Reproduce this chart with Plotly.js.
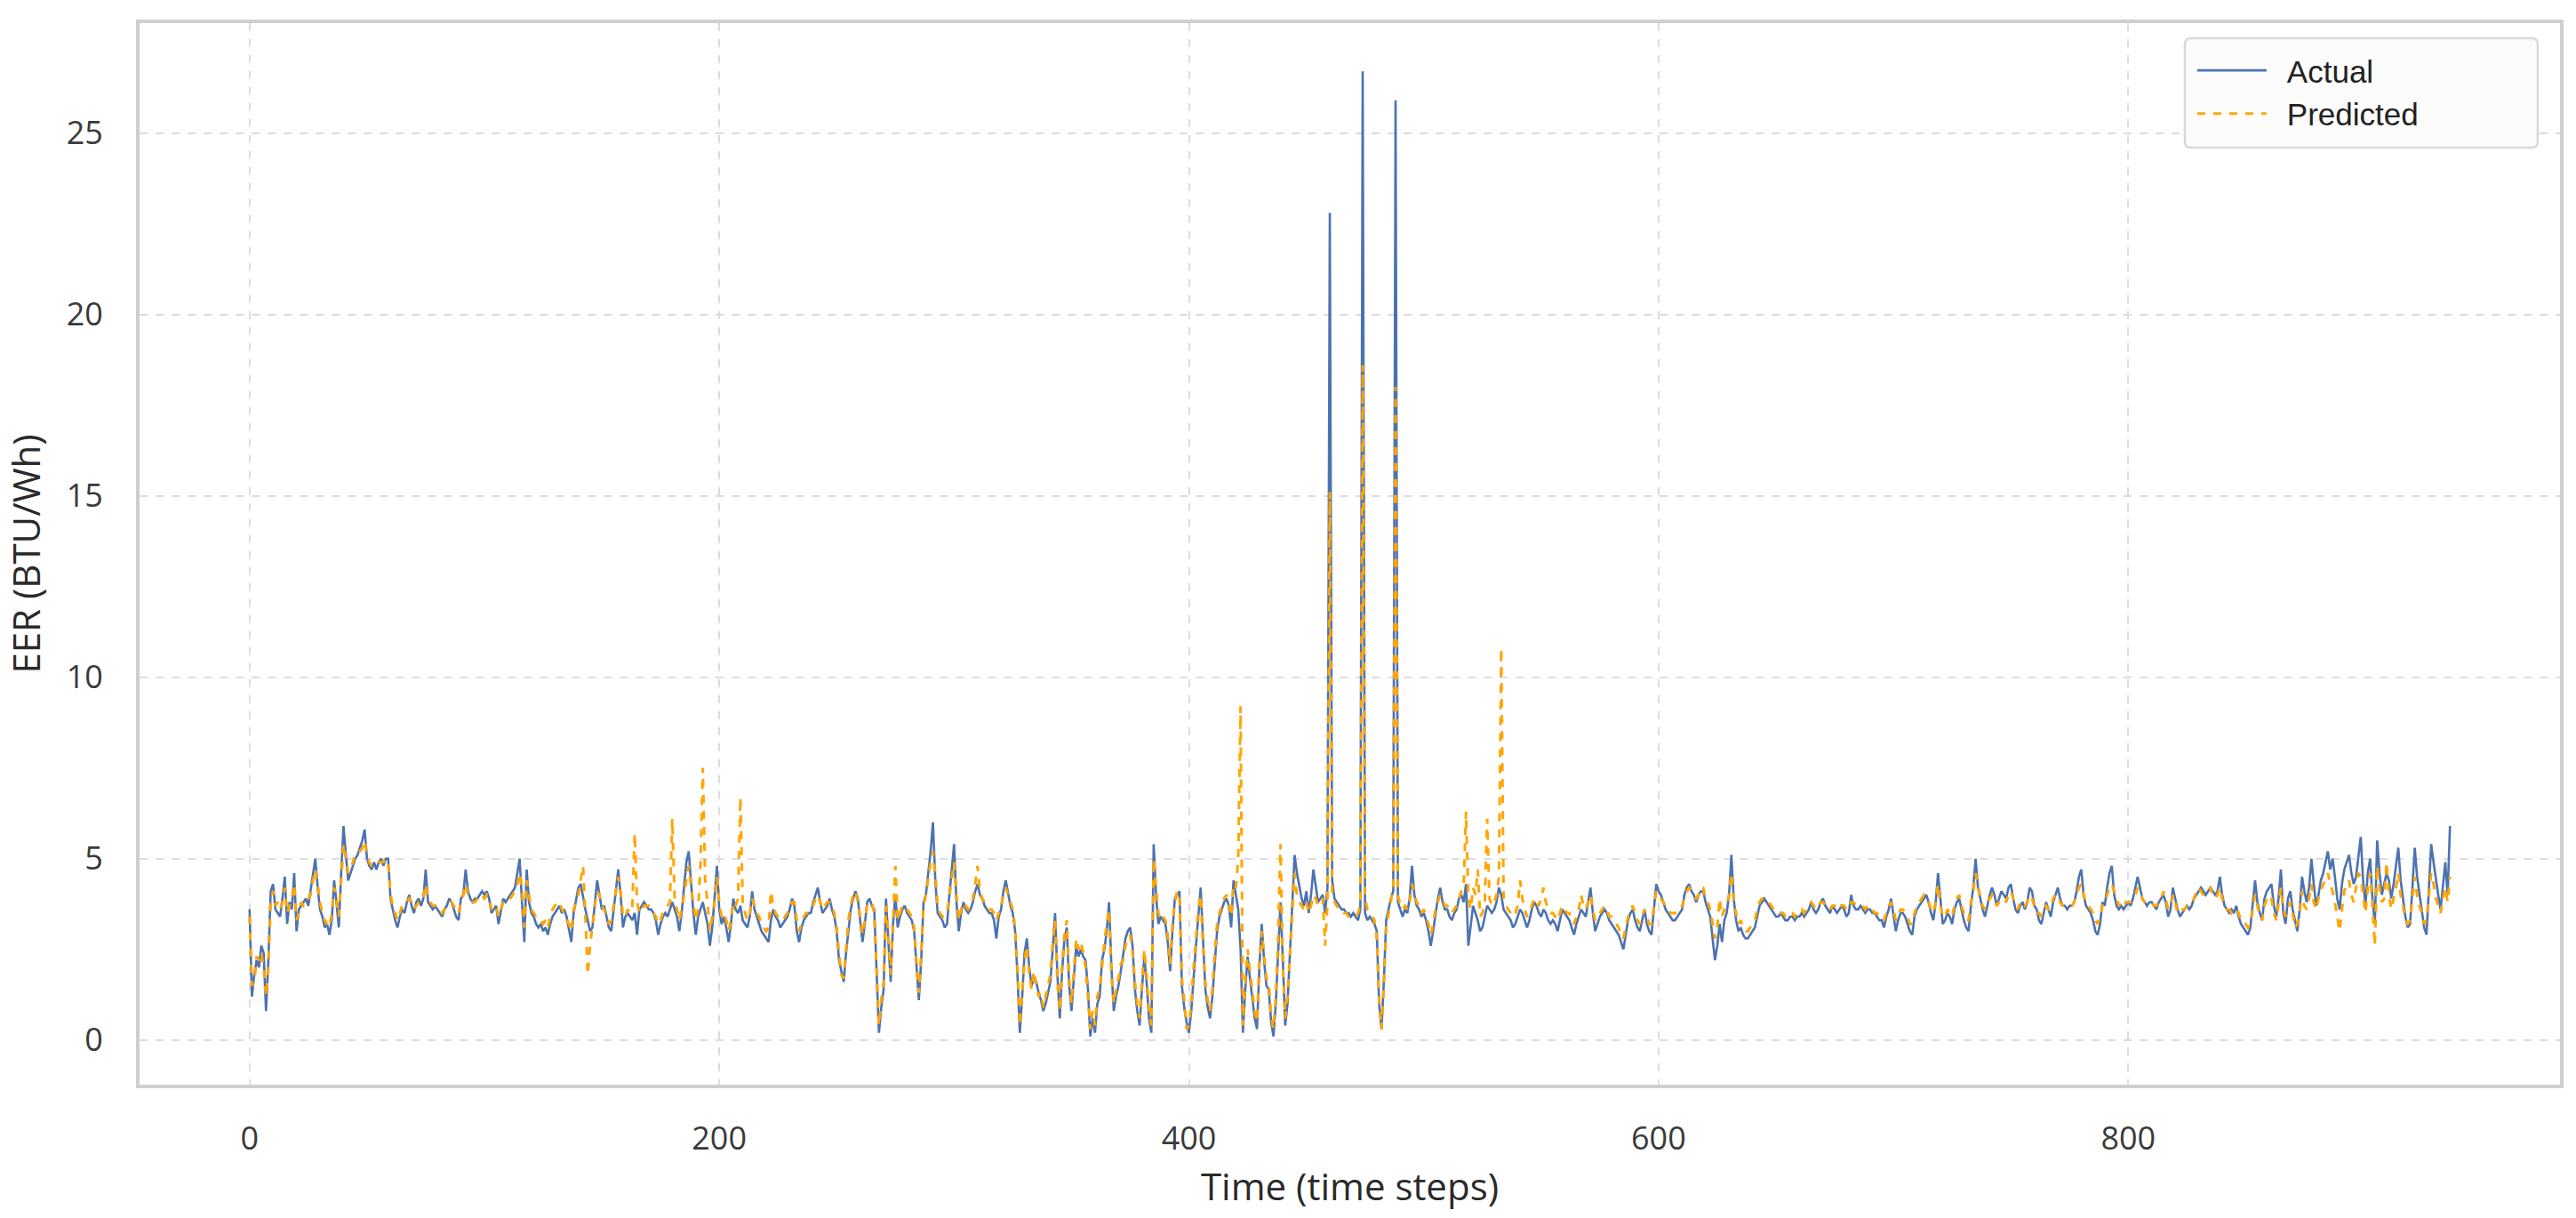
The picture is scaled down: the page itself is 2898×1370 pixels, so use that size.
<!DOCTYPE html>
<html>
<head>
<meta charset="utf-8">
<script src="https://cdn.plot.ly/plotly-3.0.1.min.js"></script>
<style>
html,body{margin:0;padding:0;background:#ffffff;}
#chart{width:2898px;height:1370px;}
</style>
</head>
<body>
<div id="chart"></div>
<script>
// Actual EER values, one per time step (t = 0 .. 937)
const actual = [
3.6,1.2,1.8,2.2,2.0,2.6,2.4,0.8,2.2,4.1,4.3,3.6,3.5,3.4,3.9,4.5,3.2,3.8,3.6,4.6,
3.0,3.6,3.7,3.8,3.9,3.7,4.1,4.5,5.0,4.2,3.6,3.4,3.1,3.2,2.9,3.3,4.4,3.8,3.1,4.6,
5.9,5.1,4.4,4.6,4.8,5.0,5.1,5.3,5.5,5.8,5.0,4.8,4.7,4.9,4.7,4.9,5.0,4.8,5.0,5.0,
3.9,3.6,3.3,3.1,3.4,3.6,3.5,3.8,4.0,3.7,3.5,3.8,3.9,3.7,3.9,4.7,3.8,3.7,3.6,3.7,
3.6,3.5,3.4,3.6,3.7,3.9,3.8,3.6,3.4,3.3,3.9,4.0,4.7,4.1,3.9,3.8,3.9,3.9,4.0,4.1,
4.0,4.1,3.9,3.5,3.6,3.7,3.2,3.6,3.9,3.8,3.9,4.0,4.1,4.2,4.6,5.0,3.8,2.7,4.7,3.8,
3.5,3.4,3.2,3.1,3.2,3.0,3.1,2.9,3.2,3.4,3.5,3.6,3.7,3.5,3.6,3.4,3.0,2.7,3.5,3.9,
4.2,4.3,3.9,3.6,3.3,3.0,3.1,3.8,4.4,4.0,3.6,3.7,3.4,3.1,3.0,3.6,4.2,4.7,4.0,3.1,
3.4,3.5,3.4,3.3,3.5,2.9,3.6,3.7,3.8,3.7,3.6,3.6,3.5,3.3,2.9,3.2,3.4,3.5,3.4,3.6,
3.8,3.6,3.4,3.0,3.5,4.2,4.9,5.2,4.3,3.5,2.9,3.4,3.6,3.8,3.5,3.2,2.6,3.1,3.9,4.8,
3.6,3.2,3.4,3.1,2.7,3.2,3.9,3.6,3.5,3.7,3.3,3.2,3.1,3.4,4.1,3.6,3.4,3.2,3.0,2.9,
2.8,2.7,3.3,3.6,3.4,3.3,3.1,3.2,3.3,3.4,3.6,3.9,3.7,3.0,2.7,3.1,3.3,3.4,3.5,3.5,
3.8,4.0,4.2,3.8,3.5,3.6,3.7,3.9,3.6,3.4,3.0,2.2,1.9,1.6,2.4,3.1,3.6,3.9,4.1,3.9,
3.2,2.7,3.2,3.8,3.9,3.7,3.6,1.8,0.2,0.9,1.4,3.9,2.8,1.6,3.2,4.0,3.1,3.4,3.6,3.7,
3.5,3.4,3.3,3.0,2.0,1.1,2.2,3.8,4.0,4.6,5.2,6.0,4.4,3.5,3.4,3.3,3.1,3.2,4.0,4.7,
5.4,3.8,3.0,3.5,3.8,3.6,3.5,3.6,3.8,4.1,4.3,4.0,3.9,3.7,3.6,3.5,3.5,3.3,2.8,3.4,
3.6,4.1,4.4,4.0,3.7,3.5,3.0,1.8,0.2,1.2,2.4,2.8,2.0,1.5,1.7,1.6,1.3,1.1,0.8,1.0,
1.3,1.6,2.5,3.5,1.8,0.6,1.9,2.8,3.1,1.5,0.8,1.6,2.6,2.3,2.5,2.3,2.2,1.4,0.1,0.6,
0.2,1.0,1.2,2.2,2.5,3.0,3.8,2.0,0.8,1.2,1.5,1.9,2.4,2.8,3.0,3.1,2.6,1.4,0.8,0.4,
1.4,2.3,1.6,0.6,0.2,5.4,4.0,3.2,3.4,3.3,3.2,2.7,1.9,3.0,3.9,4.0,4.1,1.5,0.9,0.5,
0.2,0.8,1.8,2.6,3.4,4.2,2.8,1.4,0.9,0.6,1.2,2.2,3.0,3.4,3.6,3.8,3.9,3.7,3.1,4.4,
4.0,3.6,2.5,0.2,1.4,2.3,1.7,1.2,0.6,0.3,2.0,3.2,2.2,1.5,1.4,0.5,0.1,1.0,2.6,3.8,
2.2,0.4,1.0,2.5,3.6,5.1,4.6,4.2,3.9,3.7,4.1,3.5,4.0,4.7,4.2,3.8,3.9,4.0,3.5,4.2,
22.8,4.4,3.9,3.8,3.7,3.6,3.6,3.5,3.5,3.4,3.5,3.4,3.3,3.6,26.7,3.5,3.3,3.4,3.3,3.2,
3.0,1.0,0.3,1.6,3.3,3.6,3.9,4.1,25.9,3.8,3.6,3.4,3.6,3.5,3.9,4.8,4.0,3.7,3.6,3.4,
3.5,3.3,3.0,2.6,3.0,3.5,3.9,4.2,3.8,3.6,3.6,3.4,3.3,3.5,3.6,3.9,4.0,3.8,4.3,2.6,
3.2,3.7,3.5,3.3,3.0,3.1,3.4,3.7,3.6,3.5,3.6,3.8,4.2,4.0,3.6,3.5,3.4,3.3,3.1,3.2,
3.4,3.6,3.5,3.3,3.1,3.3,3.6,3.8,3.7,3.5,3.4,3.6,3.5,3.3,3.2,3.3,3.2,3.0,3.3,3.6,
3.5,3.4,3.3,3.1,2.9,3.2,3.4,3.6,3.5,3.4,3.8,4.2,3.5,3.0,3.2,3.4,3.5,3.6,3.5,3.3,
3.2,3.1,3.0,2.9,2.7,2.5,2.9,3.3,3.5,3.6,3.3,3.1,3.0,3.3,3.6,3.2,3.0,2.9,3.6,4.3,
4.1,4.0,3.8,3.6,3.5,3.4,3.3,3.3,3.4,3.5,3.6,4.0,4.2,4.3,4.1,4.0,3.8,4.0,4.1,4.1,
3.8,3.6,3.4,2.8,2.2,2.6,3.2,2.7,3.3,3.5,4.0,5.1,3.9,3.3,3.0,3.1,2.9,2.8,2.8,2.9,
3.0,3.1,3.4,3.7,3.8,3.9,3.8,3.7,3.6,3.5,3.4,3.4,3.5,3.4,3.3,3.3,3.4,3.4,3.3,3.4,
3.4,3.5,3.4,3.5,3.6,3.8,3.6,3.5,3.6,3.8,3.9,3.7,3.6,3.5,3.7,3.6,3.5,3.6,3.7,3.6,
3.4,3.5,4.0,3.7,3.6,3.6,3.7,3.6,3.5,3.6,3.6,3.5,3.5,3.4,3.3,3.3,3.1,3.4,3.6,3.9,
3.5,3.0,3.3,3.5,3.5,3.4,3.2,3.0,2.9,3.4,3.6,3.7,3.8,3.9,4.0,3.8,3.5,3.3,3.8,4.6,
3.8,3.2,3.3,3.5,3.4,3.2,3.6,3.8,3.9,3.6,3.3,3.1,3.0,3.7,4.2,5.0,4.2,3.9,3.6,3.4,
3.7,4.0,4.2,4.0,3.7,3.9,4.1,4.0,3.9,4.2,4.3,3.9,3.6,3.5,3.7,3.8,3.6,3.8,4.2,4.1,
3.7,3.6,3.3,3.2,3.5,3.8,3.6,3.4,3.8,4.0,4.2,3.9,3.7,3.7,3.6,3.7,3.7,3.8,4.1,4.5,
4.7,4.0,3.7,3.6,3.5,3.3,3.0,2.9,3.2,3.8,3.7,4.2,4.6,4.8,4.0,3.7,3.6,3.7,3.6,3.7,
3.8,3.7,3.9,4.2,4.5,4.2,3.9,3.8,3.7,3.8,3.8,3.7,3.6,3.8,3.9,4.0,3.8,3.4,3.6,4.2,
3.9,3.6,3.4,3.5,3.6,3.7,3.6,3.7,3.9,4.0,4.1,4.2,4.1,4.0,4.1,4.2,4.1,4.0,4.1,4.5,
4.0,3.7,3.6,3.5,3.6,3.5,3.7,3.4,3.2,3.1,3.0,2.9,3.1,3.8,4.4,3.8,3.5,3.3,3.9,4.1,
4.2,4.3,3.7,3.4,3.9,4.7,3.5,3.2,3.9,4.1,3.6,3.3,3.0,3.6,4.5,4.1,3.8,4.2,5.0,4.3,
3.7,4.0,4.4,4.6,4.9,5.2,4.7,5.0,4.5,3.9,3.6,4.3,4.7,4.9,5.1,4.6,4.3,4.5,5.0,5.6,
4.4,3.7,4.6,5.0,3.9,3.2,5.5,4.6,4.0,4.3,4.6,4.4,3.9,4.3,4.8,5.3,4.4,3.9,3.4,3.1,
3.2,4.2,5.3,4.5,4.0,3.6,3.1,2.9,4.2,5.4,4.9,4.4,4.0,3.6,4.3,4.9,4.0,5.9
];

// Predicted EER values, one per time step (t = 0 .. 937)
const predicted = [
3.4,1.5,1.6,2.3,2.2,2.4,2.0,1.2,2.0,3.8,4.1,3.7,3.8,3.6,3.8,4.2,3.5,3.7,3.9,4.3,
3.3,3.5,3.8,3.7,3.8,3.9,4.0,4.4,4.7,4.3,3.8,3.5,3.3,3.2,3.1,3.5,4.2,3.9,3.4,4.4,
5.4,5.0,4.6,4.7,4.9,5.1,5.2,5.2,5.3,5.5,5.1,4.9,4.8,4.8,4.8,4.9,4.9,4.9,5.0,4.9,
4.0,3.7,3.5,3.3,3.5,3.7,3.7,3.8,3.9,3.8,3.6,3.7,3.8,3.8,3.9,4.3,3.9,3.8,3.7,3.7,
3.7,3.6,3.5,3.6,3.7,3.8,3.8,3.7,3.5,3.5,3.8,4.0,4.3,4.0,3.9,3.8,3.8,3.9,3.9,4.0,
3.9,4.0,3.9,3.6,3.7,3.7,3.4,3.6,3.8,3.8,3.8,3.9,4.0,4.1,4.3,4.6,4.2,3.1,4.4,4.0,
3.6,3.5,3.4,3.3,3.3,3.2,3.3,3.1,3.4,3.6,3.7,3.8,3.8,3.6,3.5,3.3,3.2,3.0,3.6,3.8,
4.0,4.4,4.8,3.4,1.8,2.6,3.2,3.7,4.1,4.0,3.7,3.6,3.4,3.2,3.3,3.7,4.0,4.5,4.1,3.4,
3.4,3.6,3.5,3.7,5.7,3.8,3.5,3.6,3.7,3.7,3.7,3.6,3.5,3.4,3.2,3.3,3.5,3.6,3.7,3.8,
6.1,3.9,3.6,3.3,3.6,4.0,4.5,4.8,4.2,3.7,3.3,3.6,4.8,7.5,4.4,3.8,3.0,3.4,3.8,4.5,
3.8,3.4,3.5,3.3,3.0,3.3,3.8,3.7,3.9,6.7,3.8,3.5,3.3,3.5,3.9,3.7,3.5,3.4,3.2,3.1,
3.0,3.1,4.1,3.7,3.5,3.4,3.3,3.3,3.4,3.5,3.6,3.8,3.8,3.3,3.0,3.2,3.4,3.5,3.5,3.6,
3.7,3.9,4.0,3.8,3.6,3.7,3.8,3.8,3.7,3.5,3.1,2.4,1.8,1.7,2.6,3.3,3.7,4.0,4.1,3.8,
3.4,2.9,3.3,3.7,3.8,3.8,3.5,2.0,0.4,1.1,1.6,3.7,2.9,1.8,3.5,4.8,3.3,3.5,3.7,3.7,
3.6,3.5,3.4,3.1,2.2,1.3,2.4,3.7,4.0,4.5,4.9,5.2,4.6,3.7,3.5,3.4,3.4,3.5,4.0,4.4,
4.9,4.0,3.3,3.6,3.8,3.7,3.6,3.7,3.9,4.3,4.8,4.1,3.9,3.8,3.7,3.6,3.6,3.5,3.3,3.5,
3.7,4.0,4.2,4.0,3.8,3.6,3.1,2.0,0.4,1.4,2.2,2.6,1.8,1.4,1.9,1.5,1.2,1.3,0.9,1.2,
1.5,1.8,2.7,3.3,1.6,0.8,2.1,2.9,3.3,1.7,1.0,1.8,2.8,2.5,2.7,2.4,2.0,1.2,0.3,0.8,
0.4,1.2,1.4,2.0,2.7,3.2,3.6,1.8,1.0,1.4,1.7,2.1,2.2,2.6,2.8,2.9,2.4,1.6,1.0,0.6,
1.6,2.5,1.8,0.8,0.4,5.0,4.2,3.5,3.3,3.4,3.3,2.9,2.1,3.2,3.8,4.1,4.0,1.7,1.1,0.3,
0.4,1.0,2.0,2.8,3.6,4.0,2.6,1.6,1.1,0.8,1.4,2.4,3.2,3.5,3.7,3.9,4.0,3.8,3.4,4.3,
4.2,5.0,9.2,0.4,1.6,2.5,1.9,1.4,0.8,0.5,2.2,3.0,2.4,1.7,1.6,0.7,0.3,1.2,2.8,5.4,
2.0,0.6,1.2,2.3,3.4,4.6,4.0,3.8,3.7,3.6,3.8,3.5,3.7,4.0,3.9,3.7,3.8,3.9,2.6,3.8,
15.1,4.1,3.8,3.7,3.6,3.6,3.5,3.5,3.4,3.4,3.4,3.4,3.5,3.7,18.6,3.9,3.6,3.5,3.4,3.3,
2.8,1.1,0.3,1.5,3.1,3.5,3.8,4.2,18.0,4.0,3.7,3.6,3.7,3.6,3.8,4.3,4.0,3.8,3.7,3.5,
3.6,3.4,3.2,2.9,3.2,3.6,3.8,4.0,3.9,3.7,3.7,3.6,3.5,3.6,3.7,3.9,4.1,4.2,6.3,3.9,
3.6,4.2,4.0,4.7,3.4,3.5,3.8,6.1,3.9,3.7,3.8,4.0,4.5,10.8,3.9,3.7,3.6,3.5,3.4,3.5,
3.7,4.4,3.9,3.6,3.4,3.5,3.7,3.9,3.8,3.7,3.9,4.2,3.8,3.6,3.5,3.5,3.4,3.3,3.5,3.7,
3.6,3.5,3.5,3.3,3.2,3.4,3.6,4.0,3.7,3.6,3.8,4.0,3.6,3.3,3.4,3.5,3.6,3.7,3.6,3.4,
3.4,3.3,3.2,3.1,2.9,2.8,3.1,3.4,3.6,3.7,3.5,3.3,3.2,3.4,3.6,3.4,3.2,3.2,3.7,4.1,
4.0,3.9,3.8,3.7,3.6,3.5,3.5,3.5,3.5,3.6,3.7,3.9,4.1,4.2,4.1,4.0,3.9,4.0,4.2,4.2,
3.9,3.8,3.6,3.2,2.8,3.1,3.9,3.4,3.6,3.7,4.0,4.6,3.8,3.5,3.2,3.3,3.1,3.0,3.0,3.1,
3.2,3.3,3.6,3.8,3.9,3.9,3.9,3.8,3.7,3.6,3.5,3.5,3.5,3.5,3.4,3.4,3.5,3.5,3.4,3.5,
3.5,3.6,3.5,3.6,3.7,3.8,3.7,3.6,3.7,3.8,3.8,3.7,3.7,3.6,3.7,3.7,3.6,3.7,3.7,3.7,
3.6,3.6,3.8,3.8,3.7,3.7,3.7,3.7,3.6,3.7,3.6,3.6,3.5,3.5,3.4,3.4,3.3,3.5,3.7,3.8,
3.6,3.3,3.4,3.6,3.6,3.5,3.4,3.2,3.2,3.5,3.7,3.8,3.9,4.0,3.9,3.8,3.6,3.5,3.8,4.3,
3.7,3.4,3.4,3.6,3.5,3.4,3.7,3.9,4.0,3.7,3.5,3.3,3.3,3.8,4.1,4.6,4.3,3.9,3.7,3.6,
3.8,3.9,4.0,3.9,3.7,3.8,3.9,3.9,3.8,4.0,4.1,3.9,3.7,3.6,3.8,3.8,3.7,3.8,4.0,3.9,
3.7,3.5,3.5,3.4,3.6,3.7,3.6,3.6,3.9,4.0,4.0,3.8,3.7,3.7,3.7,3.7,3.7,3.8,4.0,4.2,
4.3,4.0,3.8,3.7,3.6,3.5,3.3,3.2,3.4,3.7,3.8,4.0,4.2,4.3,4.1,3.9,3.7,3.8,3.7,3.8,
3.8,3.8,3.9,4.0,4.2,4.1,3.9,3.8,3.8,3.8,3.8,3.7,3.7,3.8,3.9,4.1,3.9,3.6,3.7,4.0,
3.8,3.5,3.5,3.6,3.6,3.7,3.7,3.8,3.9,4.1,4.2,4.1,4.0,4.0,4.1,4.2,4.0,3.9,4.0,4.2,
3.9,3.7,3.6,3.6,3.5,3.6,3.6,3.5,3.3,3.3,3.2,3.1,3.2,3.6,4.0,3.7,3.4,3.3,3.7,3.9,
4.0,3.9,3.5,3.3,3.7,4.2,3.6,3.4,3.6,3.8,3.5,3.1,3.2,3.5,4.1,3.7,3.6,3.9,4.3,3.8,
3.6,3.9,4.1,4.3,4.4,4.6,4.3,4.1,3.8,3.4,3.0,3.6,4.1,4.3,4.4,4.0,3.8,4.2,4.6,4.5,
4.0,3.5,4.2,4.6,3.7,2.6,4.8,4.2,3.8,3.9,4.9,4.0,3.6,3.9,4.2,4.6,4.0,3.7,3.3,3.2,
3.3,3.9,4.5,4.0,3.7,3.5,3.2,3.3,3.9,4.6,4.3,3.9,3.7,3.5,3.9,4.2,3.8,4.5
];

const timeSteps = actual.map((_, i) => i);

const xTicks = [0, 200, 400, 600, 800];
const yTicks = [0, 5, 10, 15, 20, 25];

const seriesNames = ["Actual", "Predicted"];
const xTitle = "Time (time steps)";
const yTitle = "EER (BTU/Wh)";

const n = actual.length;
const xPad = 0.05 * (n - 1);
const allVals = actual.concat(predicted);
const yMin = Math.min(...allVals), yMax = Math.max(...allVals);
const yPad = 0.05 * (yMax - yMin);

const traces = [
  {
    x: timeSteps, y: actual, type: "scatter", mode: "lines", name: seriesNames[0],
    line: {color: "#4c72b0", width: 2.6}
  },
  {
    x: timeSteps, y: predicted, type: "scatter", mode: "lines", name: seriesNames[1],
    line: {color: "#ffa500", width: 3, dash: "dash"}
  }
];

const tickFont = {family: "Open Sans, Noto Sans, sans-serif", size: 36, color: "#3a3a3a"};
const titleFont = {family: "Open Sans, Noto Sans, sans-serif", size: 42, color: "#2a2a2a"};

// legend frame (paper coordinates), drawn as a rounded box behind the legend entries
const lx0 = 0.845, lx1 = 0.9908, ly0 = 0.8827, ly1 = 0.9858, rx = 0.0026, ry = 0.006;
const legendBox = `M ${lx0 + rx},${ly1} L ${lx1 - rx},${ly1} Q ${lx1},${ly1} ${lx1},${ly1 - ry} ` +
  `L ${lx1},${ly0 + ry} Q ${lx1},${ly0} ${lx1 - rx},${ly0} L ${lx0 + rx},${ly0} ` +
  `Q ${lx0},${ly0} ${lx0},${ly0 + ry} L ${lx0},${ly1 - ry} Q ${lx0},${ly1} ${lx0 + rx},${ly1} Z`;

const layout = {
  width: 2898, height: 1370,
  paper_bgcolor: "#ffffff", plot_bgcolor: "#ffffff",
  margin: {l: 157, r: 18, t: 26, b: 150},
  showlegend: true,
  legend: {
    x: 0.8457, y: 0.980, xanchor: "left", yanchor: "top",
    bgcolor: "rgba(0,0,0,0)", borderwidth: 0,
    font: {family: "Liberation Sans, Arial, sans-serif", size: 35, color: "#222"},
    tracegroupgap: 0, itemwidth: 103
  },
  shapes: [{
    type: "path", xref: "paper", yref: "paper", path: legendBox,
    fillcolor: "#fcfcfc", line: {color: "#d8d8d8", width: 2.5}, layer: "above"
  }],
  xaxis: {
    range: [-xPad, (n - 1) + xPad],
    tickvals: xTicks, ticktext: xTicks.map(String),
    showgrid: true, gridcolor: "#dcdcdc", gridwidth: 2, griddash: "dash",
    zeroline: false, showline: true, mirror: true, linecolor: "#cfcfcf", linewidth: 4,
    ticks: "", ticklabelstandoff: 26, tickfont: tickFont,
    title: {text: xTitle, font: titleFont, standoff: 18},
    automargin: false
  },
  yaxis: {
    range: [yMin - yPad, yMax + yPad],
    tickvals: yTicks, ticktext: yTicks.map(String),
    showgrid: true, gridcolor: "#dcdcdc", gridwidth: 2, griddash: "dash",
    zeroline: false, showline: true, mirror: true, linecolor: "#cfcfcf", linewidth: 4,
    ticks: "", ticklabelstandoff: 30, tickfont: tickFont,
    title: {text: yTitle, font: titleFont, standoff: 18},
    automargin: false
  }
};

Plotly.newPlot("chart", traces, layout, {staticPlot: true, displayModeBar: false}).then(function (gd) {
  // lengthen the legend line samples so they fill the wider symbol area
  gd.querySelectorAll(".legend .legendlines path").forEach(function (p) {
    p.setAttribute("d", "M12,0h78");
  });
});
</script>
</body>
</html>
